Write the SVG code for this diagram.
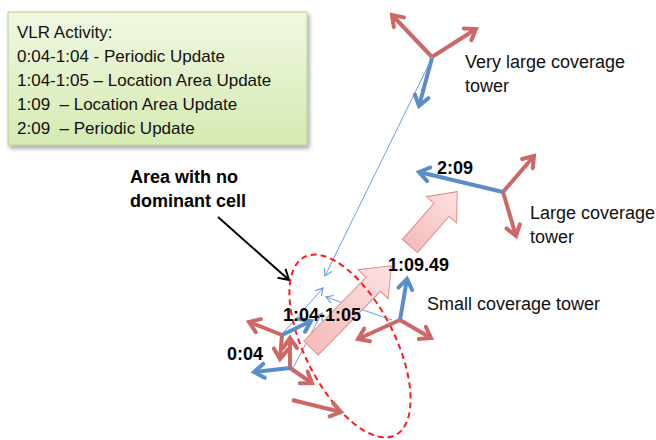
<svg xmlns="http://www.w3.org/2000/svg" width="656" height="440" viewBox="0 0 656 440">
  <defs>
    <linearGradient id="boxFill" x1="0" y1="0" x2="0" y2="1">
      <stop offset="0" stop-color="#f1f8e2"/>
      <stop offset="1" stop-color="#d5eab2"/>
    </linearGradient>
    <linearGradient id="pinkFill" x1="0" y1="0" x2="1" y2="0">
      <stop offset="0" stop-color="#f5bcbb"/>
      <stop offset="1" stop-color="#fde2e2"/>
    </linearGradient>
    <filter id="shadow" x="-10%" y="-10%" width="125%" height="130%">
      <feDropShadow dx="2" dy="3" stdDeviation="2" flood-color="#000" flood-opacity="0.35"/>
    </filter>
    <marker id="headRed" markerUnits="userSpaceOnUse" viewBox="-14 -10 18 20" markerWidth="18" markerHeight="20" refX="0" refY="0" orient="auto" overflow="visible">
      <path d="M-10,-7 L0,0 L-10,7" fill="none" stroke="#cd6866" stroke-width="4" stroke-linecap="round" stroke-linejoin="miter"/>
    </marker>
    <marker id="headBlue" markerUnits="userSpaceOnUse" viewBox="-14 -10 18 20" markerWidth="18" markerHeight="20" refX="0" refY="0" orient="auto" overflow="visible">
      <path d="M-10,-7 L0,0 L-10,7" fill="none" stroke="#5b8dc9" stroke-width="4" stroke-linecap="round" stroke-linejoin="miter"/>
    </marker>
    <marker id="headThin" markerUnits="userSpaceOnUse" viewBox="-10 -6 12 12" markerWidth="12" markerHeight="12" refX="0" refY="0" orient="auto" overflow="visible">
      <path d="M-7,-4 L0,0 L-7,4" fill="none" stroke="#6f9fd8" stroke-width="1.2"/>
    </marker>
    <marker id="headBlack" markerUnits="userSpaceOnUse" viewBox="-12 -8 14 16" markerWidth="14" markerHeight="16" refX="0" refY="0" orient="auto" overflow="visible">
      <path d="M-10,-6 L0,0 L-10,6" fill="none" stroke="#000" stroke-width="2"/>
    </marker>
  </defs>
  <style>
    .txt { font-family: "Liberation Sans", Arial, sans-serif; font-size: 17px; fill: #111; white-space: pre; }
    .lbl { font-family: "Liberation Sans", Arial, sans-serif; font-size: 18px; fill: #111; }
    .bold { font-family: "Liberation Sans", Arial, sans-serif; font-size: 18px; font-weight: bold; fill: #000; }
    .red { stroke: #cd6866; stroke-width: 4; fill: none; marker-end: url(#headRed); }
    .blue { stroke: #5b8dc9; stroke-width: 4; fill: none; marker-end: url(#headBlue); }
    .thin { stroke: #6f9fd8; stroke-width: 1; fill: none; marker-end: url(#headThin); }
    .pink { fill: url(#pinkFill); stroke: #dc8e8c; stroke-width: 1; }
  </style>

  <!-- legend box -->
  <g id="legend">
    <rect x="8" y="12" width="299" height="133" fill="url(#boxFill)" stroke="#b3d48c" stroke-width="1" filter="url(#shadow)"/>
    <text class="txt" x="17" y="38">VLR Activity:</text>
    <text class="txt" x="17" y="62">0:04-1:04 - Periodic Update</text>
    <text class="txt" x="17" y="86">1:04-1:05 – Location Area Update</text>
    <text class="txt" x="17" y="110" xml:space="preserve">1:09  – Location Area Update</text>
    <text class="txt" x="17" y="134" xml:space="preserve">2:09  – Periodic Update</text>
  </g>

  <!-- connectors: thin signal lines, movement arrows, pointer, zone outline -->
  <g id="connectors">
    <line class="thin" x1="432" y1="58" x2="325" y2="276"/>
    <line class="thin" x1="392" y1="320" x2="326" y2="297"/>
    <line class="thin" x1="283" y1="333" x2="323" y2="288"/>
    <line class="thin" x1="293" y1="368" x2="322" y2="313"/>
    <line x1="218" y1="217" x2="289" y2="280" stroke="#000" stroke-width="2" marker-end="url(#headBlack)"/>
    <polygon class="pink" points="0,-10 89,-10 89,-21 115,0 89,21 89,10 0,10" transform="translate(311 348) rotate(-45.7)"/>
    <polygon class="pink" points="0,-10 48,-10 48,-20 72,0 48,20 48,10 0,10" transform="translate(410 246) rotate(-49)"/>
    <ellipse cx="350" cy="346" rx="45" ry="100" transform="rotate(-27 350 346)" fill="none" stroke="#ff1a1a" stroke-width="2" stroke-dasharray="6 4"/>
  </g>

  <g id="tower-very-large">
    <line class="red" x1="432" y1="57" x2="392" y2="15"/>
    <line class="red" x1="432" y1="57" x2="476" y2="29"/>
    <line class="blue" x1="432" y1="58" x2="419" y2="106"/>
    <text class="lbl" x="465" y="68">Very large coverage</text>
    <text class="lbl" x="465" y="92">tower</text>
  </g>

  <g id="tower-large">
    <line class="red" x1="503" y1="192" x2="534" y2="156"/>
    <line class="red" x1="503" y1="192" x2="516" y2="236"/>
    <line class="blue" x1="503" y1="192" x2="419" y2="172"/>
    <text class="lbl" x="530" y="219">Large coverage</text>
    <text class="lbl" x="530" y="243">tower</text>
  </g>

  <g id="tower-small">
    <line class="red" x1="400" y1="320" x2="358" y2="339"/>
    <line class="red" x1="400" y1="320" x2="431" y2="338"/>
    <line class="blue" x1="400" y1="320" x2="407" y2="279"/>
    <text class="lbl" x="427" y="310">Small coverage tower</text>
  </g>

  <g id="tower-a">
    <line class="red" x1="282" y1="335" x2="249" y2="322"/>
    <line class="red" x1="282" y1="335" x2="280" y2="359"/>
    <line class="blue" x1="282" y1="335" x2="311" y2="321"/>
  </g>

  <g id="tower-b">
    <line class="red" x1="290" y1="368" x2="290" y2="338"/>
    <line class="red" x1="290" y1="368" x2="312" y2="383"/>
    <line class="blue" x1="290" y1="368" x2="254" y2="372"/>
  </g>

  <g id="sector-south">
    <line class="red" x1="292" y1="400" x2="341" y2="412"/>
  </g>

  <g id="labels">
    <text class="bold" x="130" y="183">Area with no</text>
    <text class="bold" x="130" y="207">dominant cell</text>
    <text class="bold" x="283" y="321">1:04-1:05</text>
    <text class="bold" x="227" y="360">0:04</text>
    <text class="bold" x="388" y="271">1:09.49</text>
    <text class="bold" x="437" y="174">2:09</text>
  </g>
</svg>
